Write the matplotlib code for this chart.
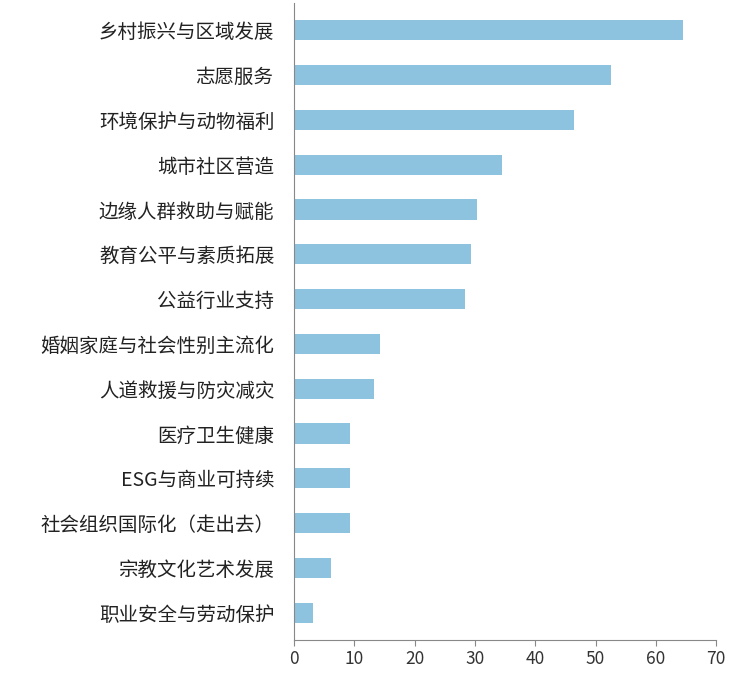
import matplotlib

matplotlib.use("Agg")
import matplotlib.pyplot as plt

plt.rcParams["font.family"] = ["Noto Sans CJK SC", "DejaVu Sans"]

categories = [
    "乡村振兴与区域发展",
    "志愿服务",
    "环境保护与动物福利",
    "城市社区营造",
    "边缘人群救助与赋能",
    "教育公平与素质拓展",
    "公益行业支持",
    "婚姻家庭与社会性别主流化",
    "人道救援与防灾减灾",
    "医疗卫生健康",
    "ESG与商业可持续",
    "社会组织国际化（走出去）",
    "宗教文化艺术发展",
    "职业安全与劳动保护",
]
values = [64.5, 52.5, 46.5, 34.5, 30.3, 29.4, 28.4, 14.3, 13.3, 9.3, 9.3, 9.3, 6.1, 3.2]

fig = plt.figure(figsize=(7.46, 6.99), dpi=100)
ax = fig.add_axes([0.394, 0.085, 0.566, 0.91])
y = list(range(len(categories)))
ax.barh(y, values, height=0.45, color="#8ec3e0")
ax.set_yticks(y)
ax.set_yticklabels(categories, fontsize=14, color="#222222")
ax.invert_yaxis()
ax.set_ylim(len(categories) - 0.4, -0.6)
ax.set_xlim(0, 70)
ax.set_xticks(range(0, 71, 10))
ax.tick_params(axis="x", labelsize=12.5, colors="#333333", length=4, color="#888888")
ax.tick_params(axis="y", length=0, pad=14)
for s in ["top", "right"]:
    ax.spines[s].set_visible(False)
for s in ["left", "bottom"]:
    ax.spines[s].set_color("#888888")
fig.savefig("out.png", dpi=100)
